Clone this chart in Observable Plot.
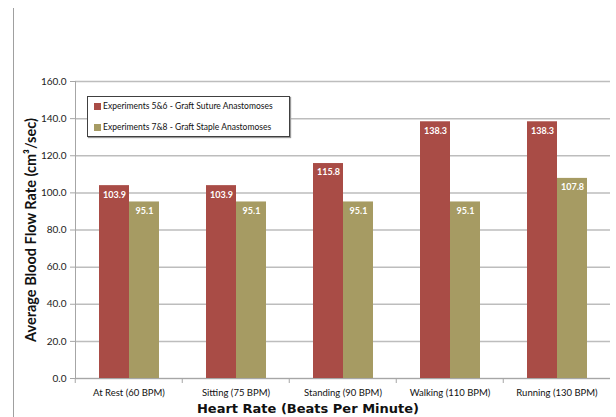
<!DOCTYPE html>
<html><head><meta charset="utf-8">
<script src="https://cdn.jsdelivr.net/npm/d3@7"></script>
<script src="https://cdn.jsdelivr.net/npm/@observablehq/plot@0.6"></script>
<style>
html,body{margin:0;padding:0;background:#fff;}
#wrap{position:relative;width:616px;height:417px;overflow:hidden;font-family:Lato,sans-serif;}
#edge{position:absolute;left:13px;top:8px;width:1px;height:409px;background:#a0a0a0;}
#legend{position:absolute;left:87px;top:96px;width:201px;height:39px;border:1px solid #404040;background:#fff;box-shadow:1px 1px 1px #999;font-size:8.5px;color:#111;}
#legend .it{position:absolute;left:6px;display:flex;align-items:center;white-space:nowrap;}
#legend .sw{width:7px;height:7px;margin-right:2px;}
#xtitle{position:absolute;left:0;top:401px;width:616px;text-align:center;font-family:"DejaVu Sans",sans-serif;font-weight:bold;font-size:13px;color:#111;}
</style></head>
<body><div id="wrap"><div id="edge"></div></div>
<script>
const categories = ["At Rest (60 BPM)", "Sitting (75 BPM)", "Standing (90 BPM)", "Walking (110 BPM)", "Running (130 BPM)"];
const seriesNames = ["Experiments 5&6 - Graft Suture Anastomoses", "Experiments 7&8 - Graft Staple Anastomoses"];
const sutureValues = [103.9, 103.9, 115.8, 138.3, 138.3];
const stapleValues = [95.1, 95.1, 95.1, 95.1, 107.8];
const yTicks = [0, 20, 40, 60, 80, 100, 120, 140, 160];
const colors = ["#a94c46", "#a69b63"];
const yTitle = "Average Blood Flow Rate (cm³/sec)";
const xTitle = "Heart Rate (Beats Per Minute)";

const data = [];
categories.forEach((c, i) => {
  data.push({cat: c, series: seriesNames[0], value: sutureValues[i]});
  data.push({cat: c, series: seriesNames[1], value: stapleValues[i]});
});

const W = 616, H = 417, mL = 74, mR = 4.5, mT = 81, mB = 39;
const band = (W - mL - mR) / categories.length;

const chart = Plot.plot({
  width: W, height: H,
  marginLeft: mL, marginRight: mR, marginTop: mT, marginBottom: mB,
  style: {fontFamily: "Lato, sans-serif", background: "transparent", overflow: "visible"},
  fx: {domain: categories, padding: 0, label: null},
  x: {domain: seriesNames, paddingInner: 0, paddingOuter: 0.734, axis: null},
  y: {domain: [0, 160], label: null},
  color: {domain: seriesNames, range: colors},
  marks: [
    Plot.gridY(yTicks, {stroke: "#bdbdbd", strokeOpacity: 1, strokeWidth: 1.5}),
    Plot.barY(data, {fx: "cat", x: "series", y: "value", fill: "series"}),
    Plot.text(data, {fx: "cat", x: "series", y: "value", text: d => d.value.toFixed(1), dy: 9, fill: "white", fontWeight: "bold", fontSize: 9}),
    Plot.ruleY([0], {stroke: "#a6a6a6", strokeWidth: 1}),
    Plot.frame({anchor: "left", facetAnchor: "left", stroke: "#a6a6a6"}),
    Plot.axisY(yTicks, {tickFormat: d3.format(".1f"), tickSize: 5, tickPadding: 4, stroke: "#a6a6a6", fill: "#222", fontSize: 10, label: null}),
    Plot.axisFx({anchor: "bottom", tickSize: 5, text: null, dx: -band / 2, stroke: "#a6a6a6", label: null}),
    Plot.axisFx({anchor: "bottom", tickSize: 0, tickPadding: 11, fontSize: 9.5, fill: "#111", label: null}),
    Plot.text([yTitle], {frameAnchor: "left", textAnchor: "middle", dx: -44, rotate: -90, fontSize: 14.5, fontWeight: "bold", fill: "#111", facetAnchor: "left"})
  ]
});
const wrap = document.getElementById("wrap");
wrap.appendChild(chart);

const leg = document.createElement("div");
leg.id = "legend";
seriesNames.forEach((s, i) => {
  const it = document.createElement("div");
  it.className = "it";
  it.style.top = (i === 0 ? 4 : 25) + "px";
  const sw = document.createElement("span");
  sw.className = "sw"; sw.style.background = colors[i];
  const t = document.createElement("span");
  t.textContent = s;
  it.appendChild(sw); it.appendChild(t);
  leg.appendChild(it);
});
wrap.appendChild(leg);

const xt = document.createElement("div");
xt.id = "xtitle";
xt.textContent = xTitle;
wrap.appendChild(xt);
</script>
</body></html>
